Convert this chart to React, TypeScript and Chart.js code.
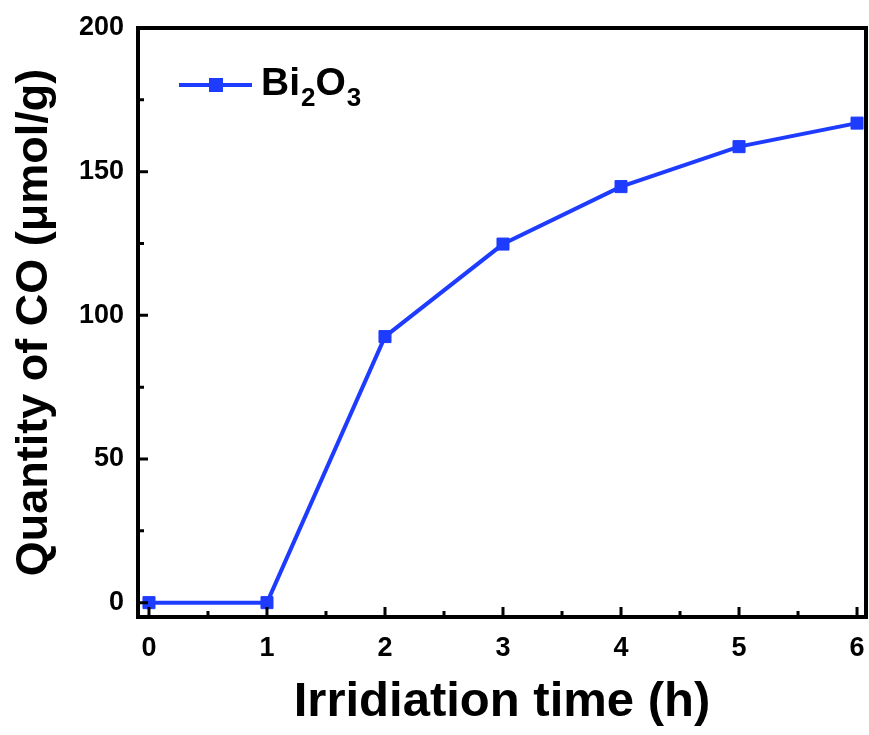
import React, { useEffect, useRef } from "react";
import { Chart, registerables } from "chart.js";

Chart.register(...registerables);

// ---- data ----
const TIME_H = [0, 1, 2, 3, 4, 5, 6];
const CO_UMOL_G = [0, 0, 92.6, 124.8, 144.8, 158.7, 166.9];
const SERIES_MAIN = "Bi";
const SERIES_SUB1 = "2";
const SERIES_MID = "O";
const SERIES_SUB2 = "3";
const X_MAJOR = [0, 1, 2, 3, 4, 5, 6];
const X_MINOR = [0.5, 1.5, 2.5, 3.5, 4.5, 5.5];
const Y_MAJOR = [0, 50, 100, 150, 200];
const Y_MINOR = [25, 75, 125, 175];
const X_TITLE = "Irridiation time (h)";
const Y_TITLE = "Quantity of CO (μmol/g)";

const BLUE = "rgb(30,60,255)";
const FONT = "'Liberation Sans', Arial, sans-serif";

const framePlugin = {
  id: "frameTicks",
  afterDraw(chart: any) {
    const { ctx, chartArea } = chart;
    const { left, right, top, bottom } = chartArea;
    const xs = chart.scales.x;
    const ys = chart.scales.y;
    ctx.save();
    ctx.strokeStyle = "#000";
    ctx.lineWidth = 4;
    ctx.strokeRect(left, top, right - left, bottom - top);
    ctx.lineWidth = 3;
    ctx.beginPath();
    X_MAJOR.forEach((v) => {
      const px = xs.getPixelForValue(v);
      ctx.moveTo(px, bottom);
      ctx.lineTo(px, bottom - 10);
    });
    X_MINOR.forEach((v) => {
      const px = xs.getPixelForValue(v);
      ctx.moveTo(px, bottom);
      ctx.lineTo(px, bottom - 6);
    });
    Y_MAJOR.forEach((v) => {
      const py = ys.getPixelForValue(v);
      ctx.moveTo(left, py);
      ctx.lineTo(left + 10, py);
    });
    Y_MINOR.forEach((v) => {
      const py = ys.getPixelForValue(v);
      ctx.moveTo(left, py);
      ctx.lineTo(left + 6, py);
    });
    ctx.stroke();

    // legend
    const ly = 85;
    ctx.strokeStyle = BLUE;
    ctx.lineWidth = 4;
    ctx.beginPath();
    ctx.moveTo(179, ly);
    ctx.lineTo(252, ly);
    ctx.stroke();
    ctx.fillStyle = BLUE;
    ctx.fillRect(216 - 7, ly - 7, 14, 14);
    ctx.fillStyle = "#000";
    ctx.textAlign = "left";
    ctx.textBaseline = "alphabetic";
    let x = 261;
    const big = `bold 39px ${FONT}`;
    const small = `bold 26px ${FONT}`;
    ctx.font = big;
    ctx.fillText(SERIES_MAIN, x, 95);
    x += ctx.measureText(SERIES_MAIN).width + 1;
    ctx.font = small;
    ctx.fillText(SERIES_SUB1, x, 106);
    x += ctx.measureText(SERIES_SUB1).width;
    ctx.font = big;
    ctx.fillText(SERIES_MID, x, 95);
    x += ctx.measureText(SERIES_MID).width + 1;
    ctx.font = small;
    ctx.fillText(SERIES_SUB2, x, 106);
    ctx.restore();
  },
};

export default function App() {
  const ref = useRef<HTMLCanvasElement | null>(null);
  useEffect(() => {
    if (!ref.current) return;
    const chart = new Chart(ref.current, {
      type: "line",
      data: {
        datasets: [
          {
            label: "Bi2O3",
            data: TIME_H.map((t, i) => ({ x: t, y: CO_UMOL_G[i] })),
            borderColor: BLUE,
            backgroundColor: BLUE,
            borderWidth: 4,
            pointStyle: "rect",
            pointRadius: 8.5,
            pointBorderWidth: 1,
            pointBorderColor: BLUE,
            pointBackgroundColor: BLUE,
            tension: 0,
            clip: false as any,
          },
        ],
      },
      options: {
        animation: false,
        responsive: true,
        maintainAspectRatio: false,
        layout: {
          autoPadding: false,
          padding: { top: 28, right: 3, left: 0, bottom: 0 },
        },
        plugins: { legend: { display: false }, tooltip: { enabled: false } },
        scales: {
          x: {
            type: "linear",
            min: -0.093,
            max: 6.076,
            grid: { display: false, drawTicks: false },
            border: { display: false },
            afterBuildTicks: (s: any) => {
              s.ticks = X_MAJOR.map((v) => ({ value: v }));
            },
            afterFit: (s: any) => {
              s.height = 118;
              s.paddingLeft = 0;
              s.paddingRight = 0;
            },
            ticks: {
              color: "#000",
              padding: 15,
              maxRotation: 0,
              font: { family: FONT, size: 27, weight: "bold" },
              callback: (v: any) => String(v),
            },
            title: {
              display: true,
              text: X_TITLE,
              color: "#000",
              font: { family: FONT, size: 49, weight: "bold", lineHeight: 1.2 },
              padding: { top: 0, bottom: 3 },
            },
          },
          y: {
            type: "linear",
            min: -5,
            max: 200,
            grid: { display: false, drawTicks: false },
            border: { display: false },
            afterBuildTicks: (s: any) => {
              s.ticks = Y_MAJOR.map((v) => ({ value: v }));
            },
            afterFit: (s: any) => {
              s.width = 138;
              s.paddingTop = 0;
              s.paddingBottom = 0;
            },
            ticks: {
              color: "#000",
              padding: 14,
              font: { family: FONT, size: 27, weight: "bold" },
              callback: (v: any) => String(v),
            },
            title: {
              display: true,
              text: Y_TITLE,
              color: "#000",
              font: { family: FONT, size: 45, weight: "bold", lineHeight: 1.2 },
              padding: { top: 8, bottom: 0 },
            },
          },
        },
      },
      plugins: [framePlugin],
    });
    return () => chart.destroy();
  }, []);
  return (
    <div
      style={{
        position: "fixed",
        left: 0,
        top: 0,
        width: 869,
        height: 735,
        background: "#fff",
      }}
    >
      <canvas ref={ref} />
    </div>
  );
}
